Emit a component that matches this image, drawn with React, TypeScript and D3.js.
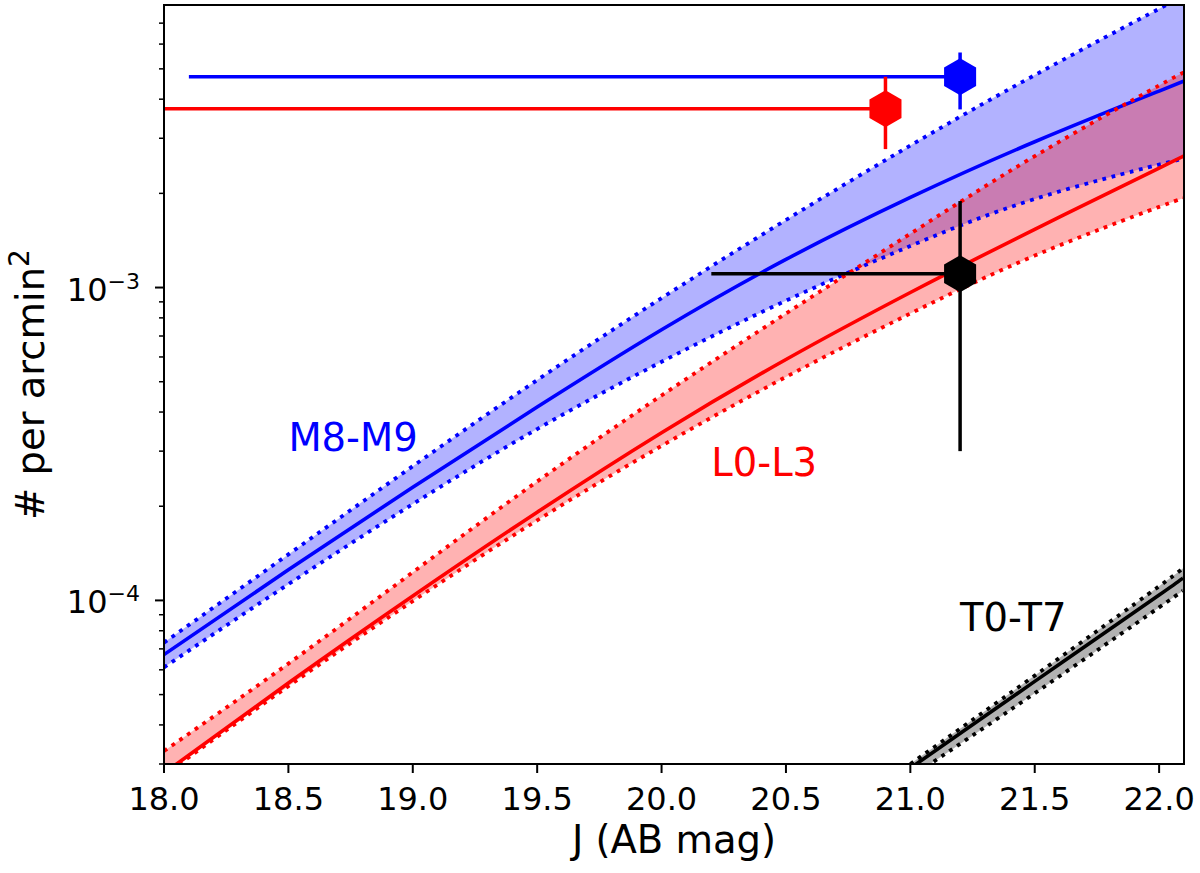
import { useEffect, useRef } from 'react';
import * as d3 from 'd3';

// J (AB) magnitudes at which the model counts were read
const mags = [18.0, 18.5, 19.0, 19.5, 20.0, 20.5, 21.0, 21.5, 22.0, 22.1];

// M8-M9 surface density, # per arcmin^2
const m8m9Mid = [6.71e-5, 1.253e-4, 2.301e-4, 4.15e-4, 7.33e-4, 1.23e-3, 1.941e-3, 2.924e-3, 4.246e-3, 4.571e-3];
const m8m9Hi = [7.33e-5, 1.403e-4, 2.685e-4, 5.06e-4, 9.25e-4, 1.644e-3, 2.844e-3, 4.775e-3, 7.78e-3, 8.57e-3];
const m8m9Lo = [6.11e-5, 1.127e-4, 2.032e-4, 3.53e-4, 5.79e-4, 9.08e-4, 1.358e-3, 1.919e-3, 2.472e-3, 2.582e-3];

// L0-L3
const l0l3Mid = [2.805e-5, 5.445e-5, 1.033e-4, 1.914e-4, 3.436e-4, 5.888e-4, 9.64e-4, 1.535e-3, 2.41e-3, 2.636e-3];
const l0l3Hi = [3.3e-5, 6.28e-5, 1.23e-4, 2.399e-4, 4.519e-4, 8.26e-4, 1.486e-3, 2.63e-3, 4.426e-3, 4.853e-3];
const l0l3Lo = [2.76e-5, 5.32e-5, 9.95e-5, 1.803e-4, 3.119e-4, 5.18e-4, 8.26e-4, 1.265e-3, 1.811e-3, 1.932e-3];

// T0-T7 (only enters the plot at the faint end)
const tMags = [21.0, 21.5, 22.0, 22.1];
const t0t7Mid = [2.91e-5, 5.51e-5, 1.04e-4, 1.19e-4];
const t0t7Hi = [3.0e-5, 5.75e-5, 1.11e-4, 1.28e-4];
const t0t7Lo = [2.72e-5, 5.05e-5, 9.5e-5, 1.08e-4];

// observed points: value, x-extent to the left, y error range
const obsNames = ['M8-M9', 'L0-L3', 'T0-T7'];
const obsMag = [21.2, 20.9, 21.2];
const obsMagStart = [18.1, 18.0, 20.2];
const obsVal = [4.72e-3, 3.73e-3, 1.106e-3];
const obsValLo = [3.71e-3, 2.77e-3, 3.0e-4];
const obsValHi = [5.64e-3, 4.72e-3, 1.89e-3];

// label anchors (left/baseline)
const labelMag = [18.5, 20.2, 21.2];
const labelVal = [3.0e-4, 2.5e-4, 8.0e-5];

// ticks
const xTicks = [18.0, 18.5, 19.0, 19.5, 20.0, 20.5, 21.0, 21.5, 22.0];
const yMajorTicks = [1e-4, 1e-3];
const yMajorLabels = ['−4', '−3'];
const yMinorTicks = [
  3e-5, 4e-5, 5e-5, 6e-5, 7e-5, 8e-5, 9e-5,
  2e-4, 3e-4, 4e-4, 5e-4, 6e-4, 7e-4, 8e-4, 9e-4,
  2e-3, 3e-3, 4e-3, 5e-3, 6e-3, 7e-3,
];

const colorOf: Record<string, string> = {
  'M8-M9': '#0000ff',
  'L0-L3': '#ff0000',
  'T0-T7': '#000000',
};

const FONT = "'DejaVu Sans', sans-serif";

export default function App() {
  const svgRef = useRef<SVGSVGElement>(null);

  useEffect(() => {
    if (!svgRef.current) return;
    const width = 1200;
    const height = 873;
    const margin = { top: 5, right: 16, bottom: 109, left: 164 };
    const x0 = margin.left;
    const x1 = width - margin.right;
    const y0 = height - margin.bottom;
    const y1 = margin.top;

    const svg = d3.select(svgRef.current);
    svg.selectAll('*').remove();

    const x = d3.scaleLinear().domain([18.0, 22.1]).range([x0, x1]);
    const y = d3.scaleLog().domain([3e-5, 8e-3]).range([y0, y1]);

    svg
      .append('defs')
      .append('clipPath')
      .attr('id', 'plot-clip')
      .append('rect')
      .attr('x', x0)
      .attr('y', y1)
      .attr('width', x1 - x0)
      .attr('height', y0 - y1);

    const plot = svg.append('g').attr('clip-path', 'url(#plot-clip)');

    const lineFor = (xs: number[], ys: number[]) =>
      d3
        .line<number>()
        .x((_, i) => x(xs[i]))
        .y((d) => y(d))
        .curve(d3.curveNatural)(ys);

    const areaFor = (xs: number[], lo: number[], hi: number[]) =>
      d3
        .area<number>()
        .x((_, i) => x(xs[i]))
        .y0((_, i) => y(lo[i]))
        .y1((d) => y(d))
        .curve(d3.curveNatural)(hi);

    const models = [
      { name: 'M8-M9', xs: mags, lo: m8m9Lo, mid: m8m9Mid, hi: m8m9Hi },
      { name: 'L0-L3', xs: mags, lo: l0l3Lo, mid: l0l3Mid, hi: l0l3Hi },
      { name: 'T0-T7', xs: tMags, lo: t0t7Lo, mid: t0t7Mid, hi: t0t7Hi },
    ];

    // shaded bands first, lines on top of all of them
    models.forEach((m) => {
      plot
        .append('path')
        .attr('d', areaFor(m.xs, m.lo, m.hi))
        .attr('fill', colorOf[m.name])
        .attr('fill-opacity', 0.3)
        .attr('stroke', 'none');
    });

    models.forEach((m) => {
      const c = colorOf[m.name];
      [m.lo, m.hi].forEach((ys) => {
        plot
          .append('path')
          .attr('d', lineFor(m.xs, ys))
          .attr('fill', 'none')
          .attr('stroke', c)
          .attr('stroke-width', 3.8)
          .attr('stroke-dasharray', '3.8,5.6');
      });
      plot
        .append('path')
        .attr('d', lineFor(m.xs, m.mid))
        .attr('fill', 'none')
        .attr('stroke', c)
        .attr('stroke-width', 3.6);
    });

    // error bars + hexagon markers
    const hexR = 18.5;
    const hex = d3.range(6).map((k) => {
      const a = ((-90 + 60 * k) * Math.PI) / 180;
      return [hexR * Math.cos(a), hexR * Math.sin(a)] as [number, number];
    });
    const hexPath = d3.line().curve(d3.curveLinearClosed)(hex);

    obsNames.forEach((name, i) => {
      const c = colorOf[name];
      const g = plot.append('g');
      g.append('line')
        .attr('x1', x(obsMagStart[i]))
        .attr('x2', x(obsMag[i]))
        .attr('y1', y(obsVal[i]))
        .attr('y2', y(obsVal[i]))
        .attr('stroke', c)
        .attr('stroke-width', 3.5);
      g.append('line')
        .attr('x1', x(obsMag[i]))
        .attr('x2', x(obsMag[i]))
        .attr('y1', y(obsValLo[i]))
        .attr('y2', y(obsValHi[i]))
        .attr('stroke', c)
        .attr('stroke-width', 3.5);
      g.append('path')
        .attr('d', hexPath)
        .attr('transform', `translate(${x(obsMag[i])},${y(obsVal[i])})`)
        .attr('fill', c);
    });

    // text labels for the models
    obsNames.forEach((name, i) => {
      svg
        .append('text')
        .attr('x', x(labelMag[i]))
        .attr('y', y(labelVal[i]))
        .attr('fill', colorOf[name])
        .attr('font-family', FONT)
        .attr('font-size', 38.5)
        .text(name);
    });

    // frame
    svg
      .append('rect')
      .attr('x', x0)
      .attr('y', y1)
      .attr('width', x1 - x0)
      .attr('height', y0 - y1)
      .attr('fill', 'none')
      .attr('stroke', '#000')
      .attr('stroke-width', 2);

    // x axis
    const xa = svg.append('g');
    xTicks.forEach((t) => {
      xa.append('line')
        .attr('x1', x(t))
        .attr('x2', x(t))
        .attr('y1', y0)
        .attr('y2', y0 + 9)
        .attr('stroke', '#000')
        .attr('stroke-width', 2);
      xa.append('text')
        .attr('x', x(t))
        .attr('y', y0 + 46)
        .attr('text-anchor', 'middle')
        .attr('font-family', FONT)
        .attr('font-size', 32)
        .text(d3.format('.1f')(t));
    });

    // y axis
    const ya = svg.append('g');
    yMinorTicks.forEach((t) => {
      ya.append('line')
        .attr('x1', x0 - 5)
        .attr('x2', x0)
        .attr('y1', y(t))
        .attr('y2', y(t))
        .attr('stroke', '#000')
        .attr('stroke-width', 1.5);
    });
    yMajorTicks.forEach((t, i) => {
      ya.append('line')
        .attr('x1', x0 - 9)
        .attr('x2', x0)
        .attr('y1', y(t))
        .attr('y2', y(t))
        .attr('stroke', '#000')
        .attr('stroke-width', 2);
      const lbl = ya
        .append('text')
        .attr('x', x0 - 24)
        .attr('y', y(t) + 13)
        .attr('text-anchor', 'end')
        .attr('font-family', FONT)
        .attr('font-size', 32);
      lbl.append('tspan').text('10');
      lbl.append('tspan').attr('dy', -12).attr('font-size', 22).text(yMajorLabels[i]);
    });

    // axis titles
    svg
      .append('text')
      .attr('x', (x0 + x1) / 2)
      .attr('y', 853)
      .attr('text-anchor', 'middle')
      .attr('font-family', FONT)
      .attr('font-size', 38.5)
      .text('J (AB mag)');

    const yl = svg
      .append('text')
      .attr('transform', `translate(44,${(y0 + y1) / 2}) rotate(-90)`)
      .attr('text-anchor', 'middle')
      .attr('font-family', FONT)
      .attr('font-size', 38.5);
    yl.append('tspan').text('# per arcmin');
    yl.append('tspan').attr('dy', -15).attr('font-size', 28).text('2');
  }, []);

  return (
    <svg
      ref={svgRef}
      width={1200}
      height={873}
      style={{ position: 'absolute', left: 0, top: 0, background: '#fff' }}
    />
  );
}
